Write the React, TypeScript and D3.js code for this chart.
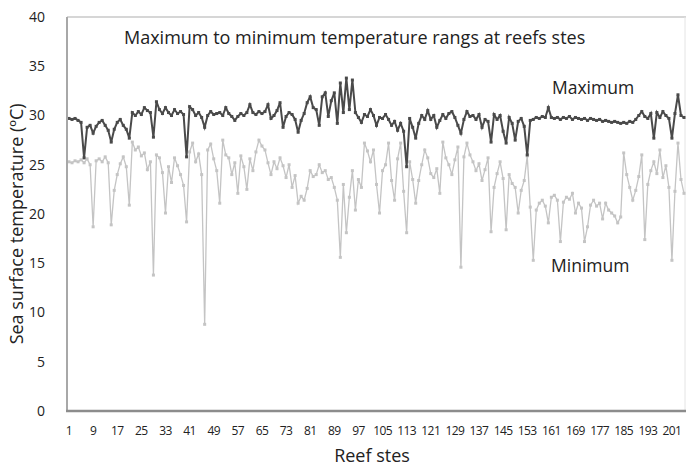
import React from "react";
import * as d3 from "d3";

const maximumTemp: number[] = [
  29.7, 29.6, 29.7, 29.5, 29.3, 25.7, 28.8, 29.0, 28.2, 28.9,
  29.3, 29.5, 29.0, 28.5, 27.3, 28.6, 29.3, 29.6, 29.0, 28.6,
  27.7, 30.3, 30.0, 30.4, 30.1, 30.8, 30.5, 30.3, 27.8, 31.4,
  30.6, 30.2, 30.8, 30.3, 30.0, 30.6, 30.2, 30.4, 30.1, 25.8,
  30.9, 30.6, 30.0, 30.3, 29.8, 28.8, 30.0, 30.4, 30.1, 30.2,
  30.3, 30.0, 30.8, 30.2, 29.9, 29.5, 29.9, 30.2, 30.0, 30.3,
  31.1, 30.3, 30.1, 30.4, 30.2, 30.4, 31.1, 29.7, 30.0, 30.5,
  31.3, 28.8, 29.9, 30.3, 30.1, 29.6, 28.3, 29.5, 30.2, 31.3,
  31.9, 30.8, 30.6, 29.0, 31.9, 32.3, 29.9, 31.5, 32.3, 29.2,
  33.3, 30.3, 33.8, 30.6, 33.6, 30.3, 29.8, 29.3, 30.1, 29.9,
  30.6, 30.0, 29.0, 29.8, 29.7, 30.1, 29.6, 29.0, 29.4, 28.5,
  29.2, 28.4, 24.8, 29.7, 28.8, 27.7, 29.2, 30.0, 29.6, 30.5,
  29.6, 30.0, 28.8, 29.5, 30.1, 29.7, 30.2, 30.4, 29.8, 29.0,
  28.2, 29.6, 30.4, 29.9, 30.0, 29.6, 30.1, 28.8, 29.6, 29.4,
  27.3, 30.1, 29.6, 30.0, 28.4, 27.2, 29.8, 29.2, 27.5, 29.4,
  29.7, 28.9, 26.0, 29.5, 29.6, 29.8, 29.7, 29.9, 29.8, 30.8,
  29.8, 29.7, 29.8, 29.6, 29.8, 29.7, 29.9, 29.6, 29.8, 29.7,
  29.6, 29.7, 29.5, 29.7, 29.6, 29.5, 29.6, 29.4, 29.5, 29.4,
  29.3, 29.4, 29.3, 29.2, 29.3, 29.2, 29.4, 29.3, 29.6, 30.0,
  30.4, 29.9, 29.7, 30.2, 27.7, 30.3, 29.8, 30.4, 30.0, 29.7,
  27.7, 30.2, 32.1, 30.0, 29.8,
];

const minimumTemp: number[] = [
  25.3, 25.2, 25.4, 25.3, 25.5, 25.2, 25.6, 25.0, 18.7, 25.4,
  25.6, 25.3, 25.8, 25.2, 18.9, 22.4, 24.0, 25.1, 25.8, 24.8,
  20.9, 27.3, 26.5, 26.8, 25.9, 26.2, 24.5, 25.3, 13.8, 26.0,
  25.7, 24.2, 20.1, 24.8, 23.2, 25.7, 24.9, 24.0, 22.9, 19.2,
  26.3, 27.2, 25.3, 26.1, 24.0, 8.8, 26.5, 27.1, 25.6, 24.4,
  21.1, 27.5, 26.0, 25.7, 24.0, 25.2, 22.1, 25.9, 24.8, 22.5,
  25.6, 24.4, 26.3, 27.5, 26.9, 26.5, 25.2, 24.0, 25.3, 24.6,
  25.7, 24.9, 23.7, 25.0, 22.7, 23.9, 21.1, 21.8, 21.4, 22.6,
  24.4, 23.8, 24.0, 25.0, 24.2, 24.4, 23.5, 23.7, 22.7, 21.4,
  15.6, 23.0, 18.1, 21.7, 24.4, 20.4, 23.5, 22.7, 27.2, 26.4,
  25.3, 26.5, 23.0, 20.1, 24.4, 25.0, 27.2, 23.4, 21.4, 25.6,
  27.2, 22.3, 18.1, 25.3, 23.5, 21.1, 23.4, 25.0, 26.5, 25.7,
  24.1, 23.7, 24.6, 22.1, 27.3, 25.7, 25.0, 24.0, 25.5, 26.8,
  14.6, 25.8, 27.2, 26.0, 25.3, 24.4, 25.1, 23.4, 24.5, 25.7,
  18.2, 22.7, 24.1, 25.3, 23.6, 18.4, 24.0, 23.1, 22.7, 20.1,
  22.4, 23.4, 25.9, 20.7, 15.3, 20.4, 21.1, 21.4, 20.8, 19.1,
  21.7, 21.9, 21.4, 17.2, 21.2, 21.7, 21.5, 22.1, 20.1, 21.1,
  20.6, 17.2, 18.7, 20.9, 21.4, 20.8, 21.1, 19.5, 21.1, 20.4,
  20.1, 19.8, 19.1, 19.7, 26.2, 24.0, 22.7, 21.4, 22.4, 23.8,
  26.0, 17.4, 23.0, 24.4, 25.3, 24.1, 26.5, 23.7, 24.9, 22.7,
  15.3, 22.3, 27.2, 23.5, 22.1,
];

const sites: number[] = maximumTemp.map((_, i) => i + 1);
const xTickLabels: number[] = [1, 9, 17, 25, 33, 41, 49, 57, 65, 73, 81, 89, 97, 105, 113, 121, 129, 137, 145, 153, 161, 169, 177, 185, 193, 201];
const yTickLabels: number[] = [0, 5, 10, 15, 20, 25, 30, 35, 40];

const W = 686;
const H = 470;
const FONT = "'Open Sans', 'Noto Sans', sans-serif";

export default function App() {
  const x = d3.scaleLinear().domain([0.5, sites.length + 0.5]).range([67.5, 685.5]);
  const y = d3.scaleLinear().domain([0, 40]).range([411, 17]);

  const line = d3
    .line<number>()
    .x((_, i) => x(sites[i]))
    .y((d) => y(d));

  const maxPath = line(maximumTemp) || "";
  const minPath = line(minimumTemp) || "";

  const minColor = "#c4c4c4";
  const maxColor = "#4a4a4a";
  const ms = 3;

  return (
    <svg width={W} height={H} style={{ position: "absolute", left: 0, top: 0, background: "#fff" }}>
      <rect x={0} y={0} width={W} height={H} fill="#ffffff" />
      {/* frame */}
      <line x1={67} x2={686} y1={y(40)} y2={y(40)} stroke="#c8c8c8" strokeWidth={1.5} />
      <line x1={685} x2={685} y1={y(40)} y2={y(0)} stroke="#e4e4e4" strokeWidth={1} />
      {/* minimum series */}
      <path d={minPath} fill="none" stroke={minColor} strokeWidth={1.3} />
      {minimumTemp.map((v, i) => (
        <rect key={"mn" + i} x={x(sites[i]) - ms / 2} y={y(v) - ms / 2} width={ms} height={ms} fill={minColor} />
      ))}
      {/* maximum series */}
      <path d={maxPath} fill="none" stroke={maxColor} strokeWidth={2} />
      {maximumTemp.map((v, i) => (
        <rect key={"mx" + i} x={x(sites[i]) - ms / 2} y={y(v) - ms / 2} width={ms} height={ms} fill={maxColor} />
      ))}
      {/* axes */}
      <line x1={67} x2={67} y1={y(40)} y2={y(0)} stroke="#a8a8a8" strokeWidth={2} />
      <line x1={66} x2={686} y1={y(0)} y2={y(0)} stroke="#8c8c8c" strokeWidth={2.5} />
      {yTickLabels.map((t) => (
        <text key={"yt" + t} x={45} y={y(t)} dy="0.35em" textAnchor="end" fontFamily={FONT} fontSize={14} fill="#222">
          {t}
        </text>
      ))}
      {xTickLabels.map((t) => (
        <text key={"xt" + t} x={x(t)} y={435} textAnchor="middle" fontFamily={FONT} fontSize={12} letterSpacing={-0.6} fill="#222">
          {t}
        </text>
      ))}
      <text x={372} y={462} textAnchor="middle" fontFamily={FONT} fontSize={18} fill="#222">
        Reef stes
      </text>
      <text
        transform={`translate(23, ${y(19)}) rotate(-90)`}
        textAnchor="middle"
        fontFamily={FONT}
        fontSize={18}
        fill="#222"
      >
        Sea surface temperature (ºC)
      </text>
      <text x={124} y={44} fontFamily={FONT} fontSize={18} fill="#222">
        Maximum to minimum temperature rangs at reefs stes
      </text>
      <text x={552} y={94} fontFamily={FONT} fontSize={17.5} fill="#222">
        Maximum
      </text>
      <text x={551} y={272} fontFamily={FONT} fontSize={17.5} fill="#222">
        Minimum
      </text>
    </svg>
  );
}
